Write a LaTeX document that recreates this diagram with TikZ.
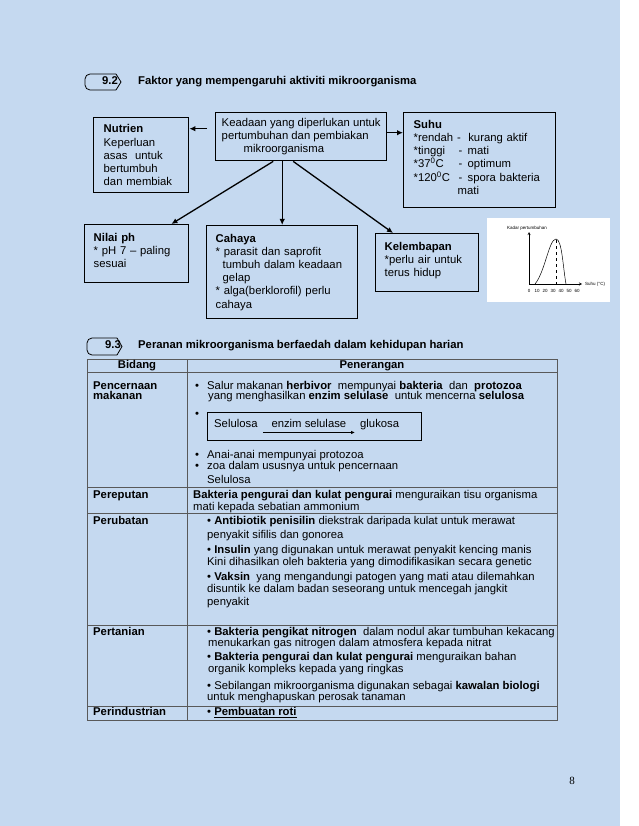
\documentclass[tikz,border=0pt]{standalone}
\usepackage{fontspec}
\setmainfont{Liberation Sans}
\newfontfamily\angkafont{Liberation Serif}
\usetikzlibrary{positioning, arrows.meta}
\definecolor{latar}{RGB}{197,217,240}
\newcommand{\ruang}[1]{\rule[-#1]{0pt}{#1}}
\newcommand{\besar}{\fontsize{11.3}{13.2}\selectfont}
\newcommand{\kecil}{\fontsize{4.5}{5}\selectfont}
\tikzset{
  kotak/.style={draw, line width=1.4pt, anchor=north west, align=left, font=\besar, inner ysep=0pt},
  baris/.style={anchor=west, inner sep=0pt, text height=8pt, text depth=2.5pt, font=\besar},
  tajuk/.style={baris, font=\besar\bfseries},
  panah/.style={-{Latex[length=6pt, width=5.5pt]}, line width=1.3pt},
  garis/.style={draw=black!65, line width=0.8pt},
}
\begin{document}
\begin{tikzpicture}[x=1pt, y=-1pt, >=stealth]
    \fill[latar] (0,0) rectangle (620,826);
    \useasboundingbox (0,0) rectangle (638,826);

    % 9.2 heading
    \draw[line width=0.8pt] (116,74) -- (121,82) -- (116,90);
    \draw[line width=0.8pt, rounded corners=5pt] (116,74) -- (85,74) -- (85,90) -- (116,90);
    \node (no92) [tajuk, anchor=center] at (110,82) {9.2};
    \node (tajuk92) [tajuk] at (138,82) {Faktor yang mempengaruhi aktiviti mikroorganisma};

    % Factor boxes
    \node (pusat) [kotak, inner xsep=4pt, minimum width=171pt, minimum height=48pt] at (215,112) {Keadaan yang diperlukan untuk\\ pertumbuhan dan pembiakan\\ \hspace*{22pt}mikroorganisma};
    \node (nutrien) [kotak, text width=75pt, inner xsep=10pt, minimum width=95pt, minimum height=75pt] at (93,117) {\textbf{Nutrien}\\ Keperluan\\ asas\ \ untuk\\ bertumbuh\\ dan membiak};
    \node (suhu) [kotak, text width=132pt, inner xsep=10pt, minimum width=152pt, minimum height=95pt] at (403,112) {\textbf{Suhu}\\ {*}rendah -\ \ kurang aktif\\ \makebox[45pt][l]{*tinggi}\makebox[9pt][l]{-}mati\\ \makebox[45pt][l]{*37\textsuperscript{0}C}\makebox[9pt][l]{-}optimum\\ \makebox[45pt][l]{*120\textsuperscript{0}C}\makebox[9pt][l]{-}spora bakteria\\ \hspace*{44pt}mati\ruang{6pt}};
    \node (nilai) [kotak, text width=86pt, inner xsep=9pt, minimum width=104pt, minimum height=58pt] at (84,224) {\textbf{Nilai ph}\\ {*} pH 7 – paling\\ sesuai\ruang{7pt}};
    \node (cahaya) [kotak, text width=133pt, inner xsep=9pt, minimum width=151pt, minimum height=93pt] at (206,225) {\textbf{Cahaya}\\ {*} parasit dan saprofit\\ \hspace*{7pt}tumbuh dalam keadaan\\ \hspace*{7pt}gelap\\ {*} alga(berklorofil) perlu\\ cahaya};
    \node (lembap) [kotak, text width=85pt, inner xsep=9pt, minimum width=103pt, minimum height=58pt] at (375,233) {\textbf{Kelembapan}\\ {*}perlu air untuk\\ terus hidup\ruang{7pt}};

    % Connection arrows
    \draw[panah, shorten <=8pt] ([yshift=8pt]pusat.west) -- ([yshift=8pt]pusat.west -| nutrien.east);
    \draw[panah] ([yshift=4pt]pusat.east) -- ([yshift=4pt]pusat.east -| suhu.west);
    \draw[panah] ([xshift=-28pt]pusat.south) -- ([xshift=-18pt]nilai.north east);
    \draw[panah] (cahaya.north |- pusat.south) -- (cahaya.north);
    \draw[panah] ([xshift=-8pt]pusat.south) -- ([xshift=18pt]lembap.north west);

    % Growth graph
    \fill[white] (487,218) rectangle (610,302);
    \draw[->, line width=0.4pt] (529,284) -- (529,232);
    \draw[->, line width=0.4pt] (529,284) -- (582,284);
    \draw[line width=0.5pt] (535,284) .. controls (545,272) and (549,239) .. (556,239) .. controls (562,239) and (563,268) .. (566,284);
    \draw[dashed, line width=0.4pt] (556,240) -- (556,284);
    \node (kadar) [font=\kecil, inner sep=0pt] at (527,228) {Kadar pertumbuhan};
    \node (paksi) [font=\kecil, inner sep=0pt, anchor=west] at (585,284) {Suhu (°C)};
    \node (skala) [font=\kecil, inner sep=0pt, anchor=west] at (525,291) {\makebox[8pt]{0}\makebox[8pt]{10}\makebox[8pt]{20}\makebox[8pt]{30}\makebox[8pt]{40}\makebox[8pt]{50}\makebox[8pt]{60}};

    % 9.3 heading
    \draw[line width=0.8pt] (117,338) -- (122,346.5) -- (117,355);
    \draw[line width=0.8pt, rounded corners=5pt] (117,338) -- (87,338) -- (87,355) -- (117,355);
    \node (no93) [tajuk, anchor=center] at (113,346) {9.3};
    \node (tajuk93) [tajuk] at (138,346) {Peranan mikroorganisma berfaedah dalam kehidupan harian};

    % Table
    \draw[garis] (87,359) rectangle (557,720);
    \draw[garis] (187,359) -- (187,720);
    \draw[garis] (87,372) -- (557,372) (87,487) -- (557,487) (87,513) -- (557,513) (87,625) -- (557,625) (87,706) -- (557,706);
    \node (bidang) [tajuk, anchor=center] at (137,366) {Bidang};
    \node (terang) [tajuk, anchor=center] at (372,366) {Penerangan};

    % Pencernaan makanan
    \node (cerna1) [tajuk] at (93,387) {Pencernaan};
    \node (cerna2) [tajuk] at (93,397) {makanan};
    \node (t1) [baris] at (195,387) {\textbullet};
    \node (c1) [baris] at (207,387) {Salur makanan \textbf{herbivor}\ \ mempunyai \textbf{bakteria}\ \ dan\ \ \textbf{protozoa}};
    \node (c2) [baris] at (208,397) {yang menghasilkan \textbf{enzim selulase}\ \ untuk mencerna \textbf{selulosa}};
    \node (t2) [baris] at (195,415) {\textbullet};
    \node (reaksi) [draw, line width=1pt, anchor=north west, minimum width=214pt, minimum height=28pt, inner sep=0pt] at (207,412) {};
    \node (selulosa) [baris] at (214,425) {Selulosa};
    \node (glukosa) [baris] at (360,425) {glukosa};
    \draw[-{Latex[length=4pt, width=3.5pt]}, line width=0.8pt, shorten <=5pt, shorten >=5pt] ([yshift=-2pt]selulosa.south east) -- node[above=4pt, font=\besar, inner sep=0pt] (enzim) {enzim selulase} ([yshift=-2pt]glukosa.south west);
    \node (t3) [baris] at (195,456) {\textbullet};
    \node (c3) [baris] at (207,456) {Anai-anai mempunyai protozoa};
    \node (t4) [baris] at (195,467) {\textbullet};
    \node (c4) [baris] at (207,467) {zoa dalam ususnya untuk pencernaan};
    \node (c5) [baris] at (207,481) {Selulosa};

    % Pereputan
    \node (reput) [tajuk] at (93,496) {Pereputan};
    \node (r1) [baris] at (193,496) {\textbf{Bakteria pengurai dan kulat pengurai} menguraikan tisu organisma};
    \node (r2) [baris] at (193,508) {mati kepada sebatian ammonium};

    % Perubatan
    \node (ubat) [tajuk] at (93,522) {Perubatan};
    \node (u1) [baris] at (207,522) {\textbullet\ \textbf{Antibiotik penisilin} diekstrak daripada kulat untuk merawat};
    \node (u2) [baris] at (207,536) {penyakit sifilis dan gonorea};
    \node (u3) [baris] at (207,551) {\textbullet\ \textbf{Insulin} yang digunakan untuk merawat penyakit kencing manis};
    \node (u4) [baris] at (207,563) {Kini dihasilkan oleh bakteria yang dimodifikasikan secara genetic};
    \node (u5) [baris] at (207,578) {\textbullet\ \textbf{Vaksin}\ \ yang mengandungi patogen yang mati atau dilemahkan};
    \node (u6) [baris] at (207,590) {disuntik ke dalam badan seseorang untuk mencegah jangkit};
    \node (u7) [baris] at (207,603) {penyakit};

    % Pertanian
    \node (tani) [tajuk] at (93,633) {Pertanian};
    \node (p1) [baris] at (207,633) {\textbullet\ \textbf{Bakteria pengikat nitrogen}\ \ dalam nodul akar tumbuhan kekacang};
    \node (p2) [baris] at (208,644) {menukarkan gas nitrogen dalam atmosfera kepada nitrat};
    \node (p3) [baris] at (207,658) {\textbullet\ \textbf{Bakteria pengurai dan kulat pengurai} menguraikan bahan};
    \node (p4) [baris] at (208,670) {organik kompleks kepada yang ringkas};
    \node (p5) [baris] at (207,687) {\textbullet\ Sebilangan mikroorganisma digunakan sebagai \textbf{kawalan biologi}};
    \node (p6) [baris] at (207,698) {untuk menghapuskan perosak tanaman};

    % Perindustrian
    \node (industri) [tajuk] at (93,713) {Perindustrian};
    \node (i1) [baris] at (207,713) {\textbullet\ \textbf{\underline{Pembuatan roti}}};

    \node (halaman) [font=\angkafont\fontsize{11}{13}\selectfont] at (572,781) {8};
\end{tikzpicture}
\end{document}
